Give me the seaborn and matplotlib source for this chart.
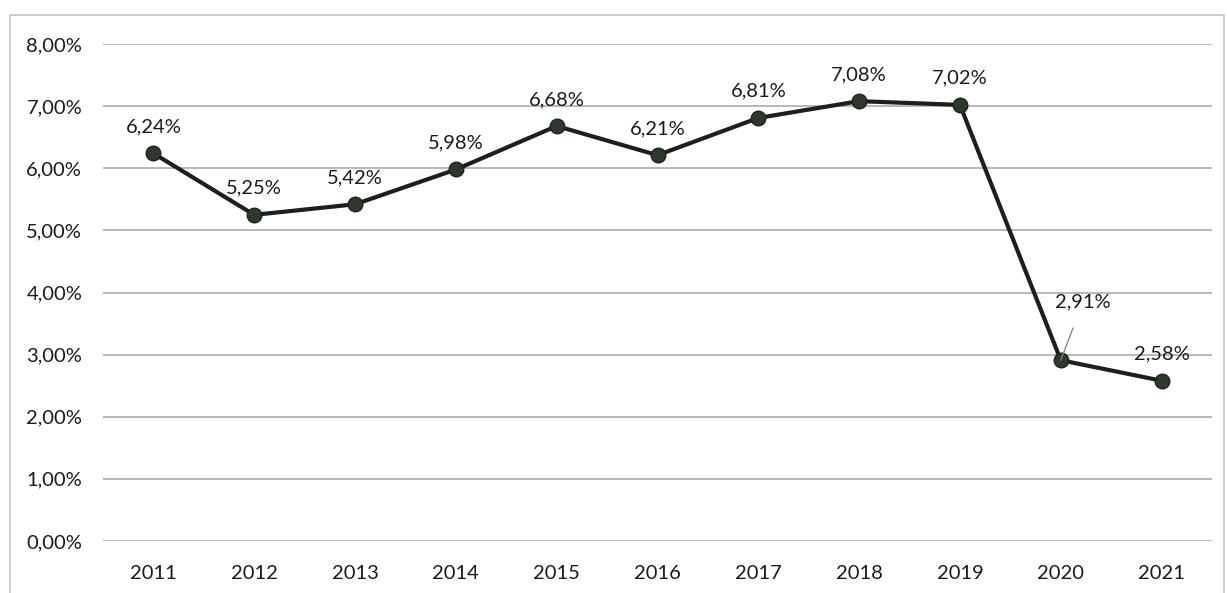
import matplotlib
matplotlib.use("Agg")
import matplotlib.pyplot as plt
import seaborn as sns
import pandas as pd
from matplotlib.patches import Rectangle

years = ["2011", "2012", "2013", "2014", "2015", "2016", "2017", "2018", "2019", "2020", "2021"]
values = [6.24, 5.25, 5.42, 5.98, 6.68, 6.21, 6.81, 7.08, 7.02, 2.91, 2.58]
y_ticks = [0, 1, 2, 3, 4, 5, 6, 7, 8]

sns.set_theme(style="white")
plt.rcParams["font.family"] = ["Lato", "DejaVu Sans"]

df = pd.DataFrame({"pos": range(len(years)), "year": years, "value": values})

fig = plt.figure(figsize=(12.27, 5.93), dpi=100)
fig.patch.set_facecolor("white")
W, H = 1227, 593
ax = fig.add_axes([103 / W, 1 - 541 / H, (1212 - 103) / W, (541 - 44) / H])

# outer chart border
fig.patches.append(Rectangle((10 / W, -0.02), (1224 - 10) / W, (1 - 15 / H) + 0.02,
                             transform=fig.transFigure, fill=False,
                             edgecolor="#c4c4c4", lw=1.2, zorder=0))

sns.lineplot(data=df, x="pos", y="value", ax=ax, color="#1c1f1c", lw=3.0,
             marker="o", markersize=10.5, markerfacecolor="#2c3a2c",
             markeredgecolor="#1c241c", markeredgewidth=1.0, zorder=3)

fs = 14.5
ax.set_xlim(-0.5, len(years) - 0.5)
ax.set_ylim(0, 8)
ax.set_yticks(y_ticks)
ax.set_yticklabels([f"{t:.2f}".replace(".", ",") + "%" for t in y_ticks])
ax.set_xticks(range(len(years)))
ax.set_xticklabels(years)
ax.set_xlabel("")
ax.set_ylabel("")
ax.grid(axis="y", color="#b8b8b8", lw=1.4)
ax.grid(axis="x", visible=False)
for s in ax.spines.values():
    s.set_visible(False)
ax.tick_params(axis="both", length=0, labelsize=fs, colors="#1a1a1a")
ax.tick_params(axis="y", pad=15)
ax.tick_params(axis="x", pad=17)

for i, v in enumerate(values):
    lab = f"{v:.2f}".replace(".", ",") + "%"
    if years[i] == "2020":
        ax.annotate(lab, xy=(i, v), xytext=(16, 42), textcoords="offset points",
                    ha="center", va="center", fontsize=fs, color="#1a1a1a",
                    arrowprops=dict(arrowstyle="-", color="#808080", lw=0.9,
                                    shrinkA=11, shrinkB=0))
    else:
        ax.annotate(lab, xy=(i, v), xytext=(0, 13), textcoords="offset points",
                    ha="center", va="bottom", fontsize=fs, color="#1a1a1a")

fig.savefig("out.png", dpi=100)
